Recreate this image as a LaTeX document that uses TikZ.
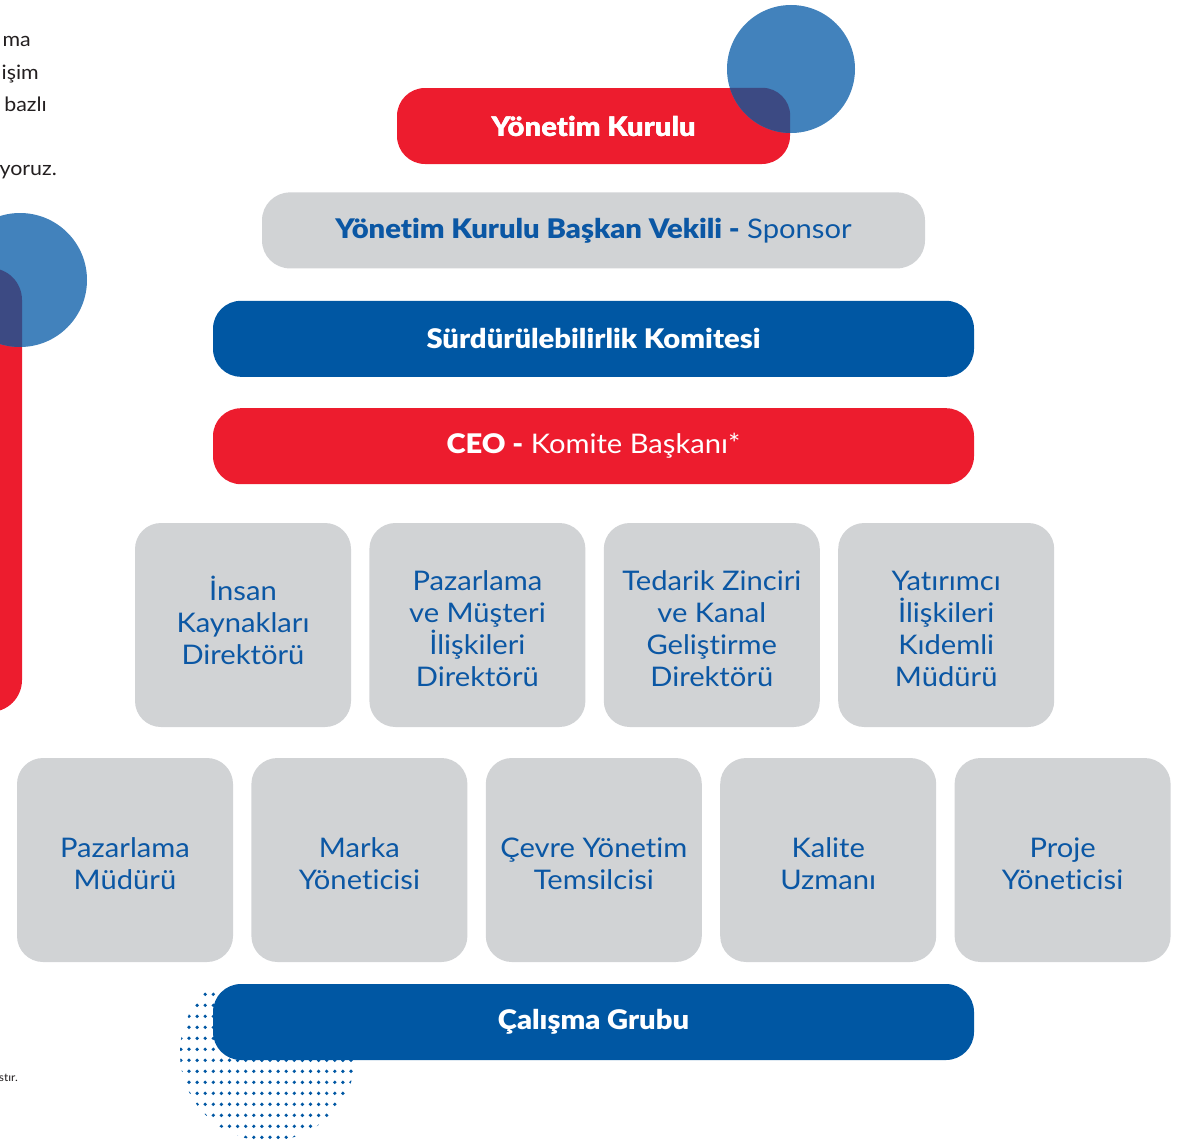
\documentclass[tikz,border=0pt]{standalone}
\usepackage{fontspec}
\setmainfont{Lato}[FakeStretch=1.08, Ligatures=NoCommon, BoldFont={Lato Black}]
\usetikzlibrary{positioning}

\definecolor{kred}{HTML}{ED1C2E}
\definecolor{kblue}{HTML}{0057A3}
\definecolor{klight}{HTML}{4282BC}
\definecolor{kdark}{HTML}{3C4A83}
\definecolor{kgray}{HTML}{D1D3D5}
\definecolor{ktext}{HTML}{0B57A4}
\definecolor{kpara}{HTML}{231F20}

\newcommand\cardstrut{\rule{0pt}{26.5pt}}

\begin{document}
\begin{tikzpicture}[
    x=1pt, y=-1pt,
    bar/.style={rounded corners=28pt, minimum width=761pt, minimum height=76pt,
      inner sep=0pt, text=white, font=\fontsize{27}{30}\selectfont},
    card/.style={fill=kgray, rounded corners=26pt, minimum width=216pt,
      minimum height=204pt, inner sep=0pt, text=ktext, align=center,
      font=\fontsize{27}{32}\selectfont},
    para/.style={anchor=base east, inner sep=0pt, text=kpara,
      font=\fontsize{19.8}{32}\selectfont},
    node distance=18pt
    ]
    \useasboundingbox (0,0) rectangle (1180,1140);

    %Decoration left
    \fill[kred, rounded corners=32pt] (-40,268) rectangle (22,712);
    \fill[klight] (20,280) circle (67);
    \begin{scope}
      \clip (20,280) circle (67);
      \fill[kdark, rounded corners=32pt] (-40,268) rectangle (22,712);
    \end{scope}

    %Dots
    \begin{scope}
      \clip (268,1053) circle (88);
      \foreach \i in {-2,...,21}
        \foreach \j in {-5,...,9}
          \fill[kblue] (189+\i*8.1, 1049.3+\j*11) circle (1.85);
    \end{scope}

    %Text left
    \node[para] (p1) at (31,47) {ma};
    \node[para] (p2) at (39,79) {işim};
    \node[para] (p3) at (47,111) {bazlı};
    \node[para] (p4) at (57,175) {yoruz.};
    \node[para, font=\fontsize{11}{12}\selectfont] (p5) at (18,1081) {stır.};

    %Bars
    \node[bar, fill=kred, minimum width=393pt, font=\fontsize{27}{30}\selectfont\bfseries]
      (yk) at (593.5,126) {Yönetim Kurulu};
    \node[bar, fill=kgray, minimum width=663pt, text=ktext] (vekil) [below=28pt of yk]
      {\textbf{Yönetim Kurulu Başkan Vekili -} Sponsor};
    \node[bar, fill=kblue, font=\fontsize{27}{30}\selectfont\bfseries] (komite) [below=32pt of vekil]
      {Sürdürülebilirlik Komitesi};
    \node[bar, fill=kred] (ceo) [below=31pt of komite]
      {\textbf{CEO -} Komite Başkanı*};

    %Circle top
    \fill[klight] (791,69) circle (64);
    \begin{scope}
      \clip (791,69) circle (64);
      \fill[kdark, rounded corners=28pt] (yk.north west) rectangle (yk.south east);
    \end{scope}
    \node[text=white, font=\fontsize{27}{30}\selectfont\bfseries] at (yk) {Yönetim Kurulu};

    %Cards
    \node[card] (ik) at (243,625) {İnsan\\Kaynakları\\Direktörü\rule[-9pt]{0pt}{0pt}};
    \node[card] (pmi) [right=of ik] {\cardstrut Pazarlama\\ve Müşteri\\İlişkileri\\Direktörü};
    \node[card] (tzk) [right=of pmi] {\cardstrut Tedarik Zinciri\\ve Kanal\\Geliştirme\\Direktörü};
    \node[card] (yim) [right=of tzk] {\cardstrut Yatırımcı\\İlişkileri\\Kıdemli\\Müdürü};

    \node[card] (pm) at (125,860) {\cardstrut Pazarlama\\Müdürü};
    \node[card] (my) [right=of pm] {\cardstrut Marka\\Yöneticisi};
    \node[card] (cyt) [right=of my] {\cardstrut Çevre Yönetim\\Temsilcisi};
    \node[card] (ku) [right=of cyt] {\cardstrut Kalite\\Uzmanı};
    \node[card] (py) [right=of ku] {\cardstrut Proje\\Yöneticisi};

    %Bottom bar
    \node[bar, fill=kblue, font=\fontsize{27}{30}\selectfont\bfseries] (grup) at (593.5,1022)
      {Çalışma Grubu};

\end{tikzpicture}
\end{document}
